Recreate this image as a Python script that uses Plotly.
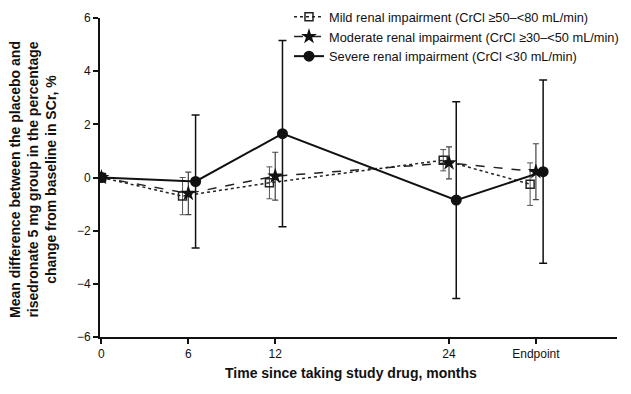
import plotly.graph_objects as go

time_points = [0, 6, 12, 24, 30]
tick_labels = ["0", "6", "12", "24", "Endpoint"]

mild_vals = [0.0, -0.7, -0.2, 0.65, -0.25]
mild_err = [0.0, 0.7, 0.6, 0.4, 0.8]
moderate_vals = [0.0, -0.6, 0.05, 0.55, 0.22]
moderate_err = [0.0, 0.8, 0.9, 0.6, 1.05]
severe_vals = [0.0, -0.15, 1.65, -0.85, 0.22]
severe_err = [0.0, 2.5, 3.5, 3.7, 3.45]

offsets = {"mild": -0.4, "moderate": 0.0, "severe": 0.5}

def shift(xs, d):
    return [x + (d if x > 0 else 0) for x in xs]

font_family = "Liberation Sans, Arial, sans-serif"
fig = go.Figure()

fig.add_trace(go.Scatter(
    x=shift(time_points, offsets["mild"]), y=mild_vals,
    mode="lines+markers",
    name="Mild renal impairment (CrCl ≥50–<80 mL/min)",
    line=dict(color="#222", width=1.5, dash="dot"),
    marker=dict(symbol="square-open", size=8, color="#222", line=dict(width=1.5)),
    error_y=dict(type="data", array=mild_err, color="#555", thickness=1, width=3),
))
fig.add_trace(go.Scatter(
    x=shift(time_points, offsets["moderate"]), y=moderate_vals,
    mode="lines+markers",
    name="Moderate renal impairment (CrCl ≥30–<50 mL/min)",
    line=dict(color="#222", width=1.5, dash="dash"),
    marker=dict(symbol="star", size=12, color="#111"),
    error_y=dict(type="data", array=moderate_err, color="#444", thickness=1.2, width=3),
))
fig.add_trace(go.Scatter(
    x=shift(time_points, offsets["severe"]), y=severe_vals,
    mode="lines+markers",
    name="Severe renal impairment (CrCl <30 mL/min)",
    line=dict(color="#111", width=2),
    marker=dict(symbol="circle", size=11, color="#111"),
    error_y=dict(type="data", array=severe_err, color="#111", thickness=1.5, width=4),
))

fig.update_layout(
    width=631, height=394,
    margin=dict(l=92, r=22, t=10, b=65, autoexpand=False),
    paper_bgcolor="white", plot_bgcolor="white",
    font=dict(family=font_family, size=12, color="#111"),
    showlegend=True,
    legend=dict(x=(281 - 92) / 517, y=1.05, xanchor="left", yanchor="top",
                bgcolor="rgba(0,0,0,0)", font=dict(size=12.8),
                tracegroupgap=0, itemwidth=30),
    xaxis=dict(
        range=[-0.1, 35.6], tickvals=time_points, ticktext=tick_labels,
        showline=True, linecolor="#111", linewidth=2, ticks="outside",
        ticklen=5, tickwidth=1.5, tickcolor="#111", showgrid=False, zeroline=False,
        tickfont=dict(size=12, family=font_family),
    ),
    yaxis=dict(
        range=[-6, 6], tickvals=[-6, -4, -2, 0, 2, 4, 6],
        ticktext=["−6", "−4", "−2", "0", "2", "4", "6"],
        showline=True, linecolor="#111", linewidth=2, ticks="outside",
        ticklen=5, tickwidth=1.5, tickcolor="#111", showgrid=False, zeroline=False,
        tickfont=dict(size=12, family=font_family),
    ),
    annotations=[
        dict(text="<b>Time since taking study drug, months</b>",
             xref="paper", yref="paper", x=(351 - 100) / 517, y=(337 - 373) / 319,
             xanchor="center", yanchor="middle", showarrow=False,
             font=dict(size=14)),
        dict(text="<b>Mean difference between the placebo and<br>risedronate 5 mg group in the percentage<br>change from baseline in SCr, %</b>",
             xref="paper", yref="paper", x=(33 - 100) / 517, y=(337 - 180) / 319,
             xanchor="center", yanchor="middle", showarrow=False, textangle=-90,
             font=dict(size=14)),
    ],
)

fig.write_html("out.html")
